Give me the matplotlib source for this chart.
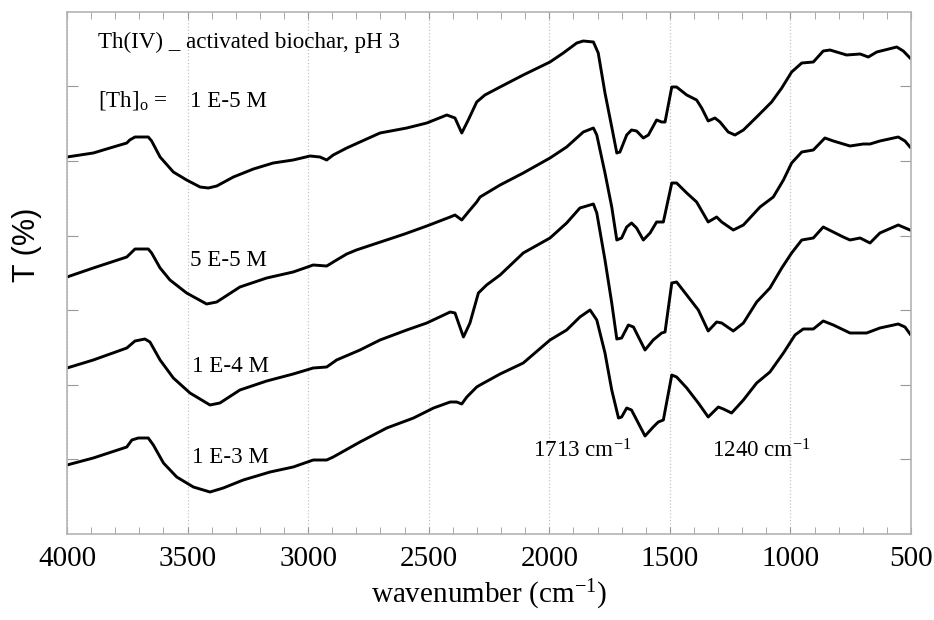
import numpy as np
import matplotlib
matplotlib.use('Agg')
import matplotlib.pyplot as plt
from matplotlib.ticker import MultipleLocator

plt.rcParams['font.family'] = 'Liberation Serif'
plt.rcParams['mathtext.fontset'] = 'custom'
plt.rcParams['mathtext.rm'] = 'Liberation Serif'
plt.rcParams['mathtext.it'] = 'Liberation Serif:italic'

# FTIR spectra (transmittance, arbitrary offset units)
wn1 = [4000, 3891, 3822, 3752, 3740, 3718, 3663, 3649, 3614, 3559,
       3504, 3448, 3414, 3379, 3310, 3227, 3145, 3062, 2992, 2951,
       2923, 2896, 2840, 2785, 2702, 2591, 2508, 2425, 2391, 2363,
       2336, 2301, 2267, 2204, 2108, 1997, 1942, 1886, 1859, 1817,
       1797, 1769, 1741, 1720, 1707, 1679, 1659, 1638, 1610, 1589,
       1555, 1534, 1520, 1492, 1472, 1430, 1389, 1368, 1341, 1313,
       1292, 1258, 1230, 1195, 1140, 1078, 1036, 995, 953, 905,
       864, 836, 767, 711, 677, 642, 559, 532, 504]
T1 = [377, 381, 386, 391, 394, 397, 397, 393, 377, 362,
      354, 347, 346, 348, 357, 365, 371, 374, 378, 377,
      374, 379, 386, 392, 401, 406, 411, 419, 416, 401,
      414, 432, 439, 447, 459, 472, 481, 491, 493, 492,
      481, 441, 407, 381, 382, 399, 404, 403, 396, 399,
      414, 412, 412, 447, 447, 439, 434, 426, 413, 416,
      412, 402, 399, 404, 417, 432, 446, 462, 471, 472,
      483, 484, 479, 480, 477, 482, 487, 483, 476]

wn2 = [4000, 3891, 3752, 3718, 3663, 3649, 3614, 3573, 3504, 3421,
       3379, 3283, 3172, 3062, 2979, 2923, 2882, 2840, 2800, 2700,
       2600, 2508, 2411, 2391, 2363, 2336, 2301, 2287, 2204, 2108,
       1997, 1928, 1859, 1817, 1803, 1769, 1741, 1720, 1700, 1679,
       1659, 1638, 1610, 1582, 1555, 1527, 1492, 1472, 1430, 1389,
       1341, 1306, 1285, 1237, 1195, 1126, 1071, 1029, 995, 953,
       905, 857, 822, 753, 698, 670, 629, 553, 525, 504]
T2 = [257, 266, 277, 285, 285, 281, 266, 254, 241, 230,
      232, 247, 256, 262, 269, 268, 274, 280, 284, 292,
      300, 308, 317, 319, 314, 322, 332, 337, 349, 361,
      376, 387, 402, 406, 399, 361, 327, 294, 296, 307,
      311, 306, 294, 301, 312, 312, 351, 351, 341, 332,
      312, 317, 312, 304, 309, 327, 337, 354, 371, 382,
      384, 396, 393, 388, 390, 390, 393, 397, 393, 387]

wn3 = [4000, 3891, 3752, 3718, 3677, 3656, 3614, 3559, 3490, 3407,
       3366, 3283, 3172, 3062, 2979, 2923, 2882, 2785, 2702, 2591,
       2508, 2411, 2391, 2356, 2329, 2294, 2260, 2204, 2108, 1997,
       1928, 1873, 1817, 1803, 1769, 1741, 1720, 1700, 1672, 1651,
       1603, 1569, 1534, 1520, 1492, 1472, 1430, 1382, 1341, 1306,
       1285, 1237, 1195, 1140, 1085, 1036, 995, 953, 905, 864,
       781, 753, 711, 670, 629, 553, 504]
T3 = [166, 174, 186, 193, 195, 192, 174, 156, 141, 129,
      131, 144, 153, 160, 166, 167, 174, 184, 194, 204,
      211, 222, 221, 197, 211, 241, 249, 259, 281, 296,
      311, 326, 330, 321, 274, 231, 195, 196, 209, 207,
      184, 194, 201, 202, 251, 252, 239, 224, 203, 212,
      211, 203, 211, 232, 246, 266, 281, 294, 296, 307,
      297, 294, 296, 291, 301, 309, 304]

wn4 = [4000, 3891, 3752, 3731, 3704, 3663, 3642, 3600, 3545, 3476,
       3407, 3352, 3269, 3158, 3062, 2979, 2923, 2896, 2785, 2674,
       2563, 2480, 2411, 2384, 2363, 2342, 2301, 2287, 2204, 2108,
       1997, 1928, 1873, 1831, 1803, 1769, 1741, 1713, 1700, 1679,
       1659, 1631, 1603, 1569, 1548, 1527, 1492, 1472, 1430, 1382,
       1341, 1299, 1278, 1244, 1195, 1140, 1085, 1029, 981, 947,
       905, 864, 822, 753, 684, 629, 553, 525, 504]
T4 = [69, 76, 87, 94, 96, 96, 89, 71, 57, 47,
      42, 46, 54, 62, 67, 74, 74, 77, 92, 106,
      116, 126, 132, 132, 130, 137, 147, 149, 160, 171,
      194, 204, 217, 224, 214, 181, 144, 116, 117, 126,
      124, 111, 98, 107, 112, 114, 159, 157, 146, 131,
      117, 127, 125, 121, 134, 151, 162, 181, 199, 205,
      205, 213, 209, 201, 201, 206, 210, 207, 200]

fig = plt.figure(figsize=(9.34, 6.2), dpi=100)
ax = fig.add_axes([67/934, 86/620, 844/934, 522/620])

for wn, T in [(wn1, T1), (wn2, T2), (wn3, T3), (wn4, T4)]:
    ax.plot(wn, T, color='black', lw=2.1, solid_joinstyle='round')

ax.set_xlim(4000, 500)
ax.set_ylim(0, 522)
ax.xaxis.set_major_locator(MultipleLocator(500))
ax.xaxis.set_minor_locator(MultipleLocator(100))
ax.set_yticks(np.arange(1, 7) * 74.6)
ax.set_yticklabels([])
ax.grid(axis='x', which='major', color='#c4c4c4', linestyle=':', lw=0.9)

for s in ax.spines.values():
    s.set_color('#b4b4b4')
    s.set_linewidth(1.2)

ax.tick_params(axis='x', which='major', direction='in', length=5, top=True,
               color='#999999', labelsize=21, pad=9)
ax.tick_params(axis='x', which='minor', direction='in', length=5, top=True,
               color='#999999')
ax.tick_params(axis='y', which='major', direction='in', length=8, right=True,
               color='#999999', labelleft=False)

ax.set_xlabel('wavenumber (cm$^{-1}$)', fontsize=21, labelpad=4)
fig.text(27/934, 1 - 245/620, 'T (%)', rotation=90, family='Liberation Sans',
         fontsize=22, ha='center', va='center')

# annotations
fs = 16.6
ax.text(3871, 486, 'Th(IV) _ activated biochar, pH 3', fontsize=fs, va='baseline')
ax.text(3871, 427, '[Th]$_{\\mathrm{o}}$ =', fontsize=fs, va='baseline')
ax.text(3490, 427, '1 E-5 M', fontsize=fs, va='baseline')
ax.text(3490, 268, '5 E-5 M', fontsize=fs, va='baseline')
ax.text(3482, 162, '1 E-4 M', fontsize=fs, va='baseline')
ax.text(3482, 71, '1 E-3 M', fontsize=fs, va='baseline')
ax.text(2068, 77, '1713 cm$^{-1}$', fontsize=fs, va='baseline')
ax.text(1325, 77, '1240 cm$^{-1}$', fontsize=fs, va='baseline')

fig.savefig('out.png', dpi=100)
